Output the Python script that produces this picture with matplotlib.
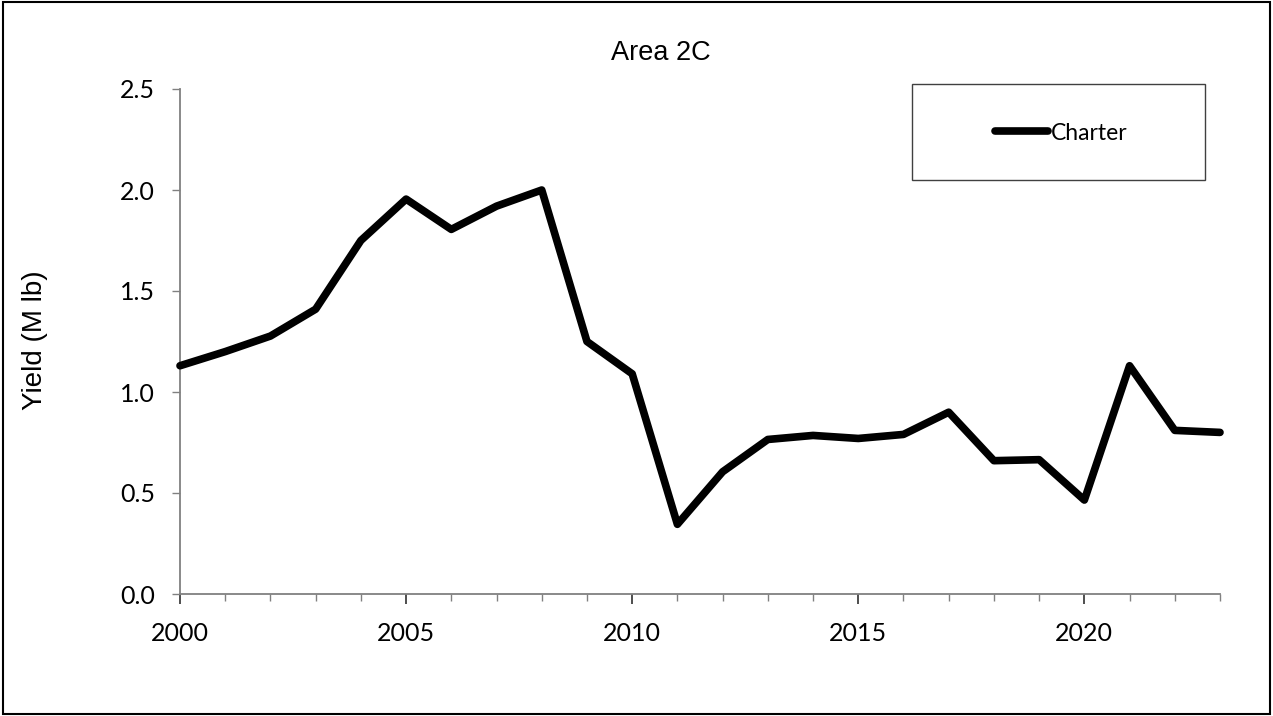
import matplotlib
matplotlib.use("Agg")
import matplotlib.pyplot as plt
from matplotlib.patches import Rectangle

years = list(range(2000, 2024))
charter = [1.13, 1.20, 1.277, 1.41, 1.75, 1.955, 1.805, 1.92, 2.00, 1.25,
           1.09, 0.345, 0.605, 0.765, 0.785, 0.77, 0.79, 0.90, 0.66, 0.665,
           0.465, 1.13, 0.81, 0.80]

x_major = [2000, 2005, 2010, 2015, 2020]
y_major = [0.0, 0.5, 1.0, 1.5, 2.0, 2.5]

fig = plt.figure(figsize=(12.73, 7.16), dpi=100)
ax = fig.add_axes([180/1273, 1-594/716, 1040/1273, 505/716])

ax.plot(years, charter, color="black", lw=5.5, label="Charter",
        solid_capstyle="round", solid_joinstyle="round", clip_on=False, zorder=3)

ax.set_xlim(2000, 2023)
ax.set_ylim(0, 2.5)

ax.set_xticks(x_major)
ax.set_xticks(years, minor=True)
ax.set_yticks(y_major)
ax.set_yticklabels([f"{v:.1f}" for v in y_major])

for s in ["top", "right"]:
    ax.spines[s].set_visible(False)
for s in ["left", "bottom"]:
    ax.spines[s].set_color("#808080")
    ax.spines[s].set_linewidth(1.3)

ax.tick_params(axis="y", direction="out", length=6, width=1, color="#808080",
               pad=12, labelsize=18)
ax.tick_params(axis="x", which="major", direction="out", length=7, width=1.3,
               color="#404040", pad=13, labelsize=18)
ax.tick_params(axis="x", which="minor", direction="out", length=5, width=1,
               color="#808080")
for lab in ax.get_xticklabels() + ax.get_yticklabels():
    lab.set_fontfamily("Lato")

ax.set_ylabel("Yield (M lb)", fontsize=20, family="Liberation Sans")
ax.yaxis.set_label_coords(-0.127, 0.502)

fig.text(661/1273, 1-53/716, "Area 2C", ha="center", va="center",
         fontsize=19.5, family="Liberation Sans")

# legend with a wider box drawn separately
fig.add_artist(Rectangle((912/1273, 1-180/716), 293/1273, 96/716,
                         transform=fig.transFigure, fill=False,
                         edgecolor="#404040", lw=1))
fig.legend(loc="center", bbox_to_anchor=(1061/1273, 1-133/716), frameon=False,
           handlelength=2.3, handletextpad=0.12,
           prop={"family": "Lato", "size": 16.5})

# outer chart border
fig.add_artist(Rectangle((0.002, 0.003), 0.996, 0.994, transform=fig.transFigure,
                         fill=False, edgecolor="black", lw=1.5))

fig.savefig("out.png", dpi=100)
